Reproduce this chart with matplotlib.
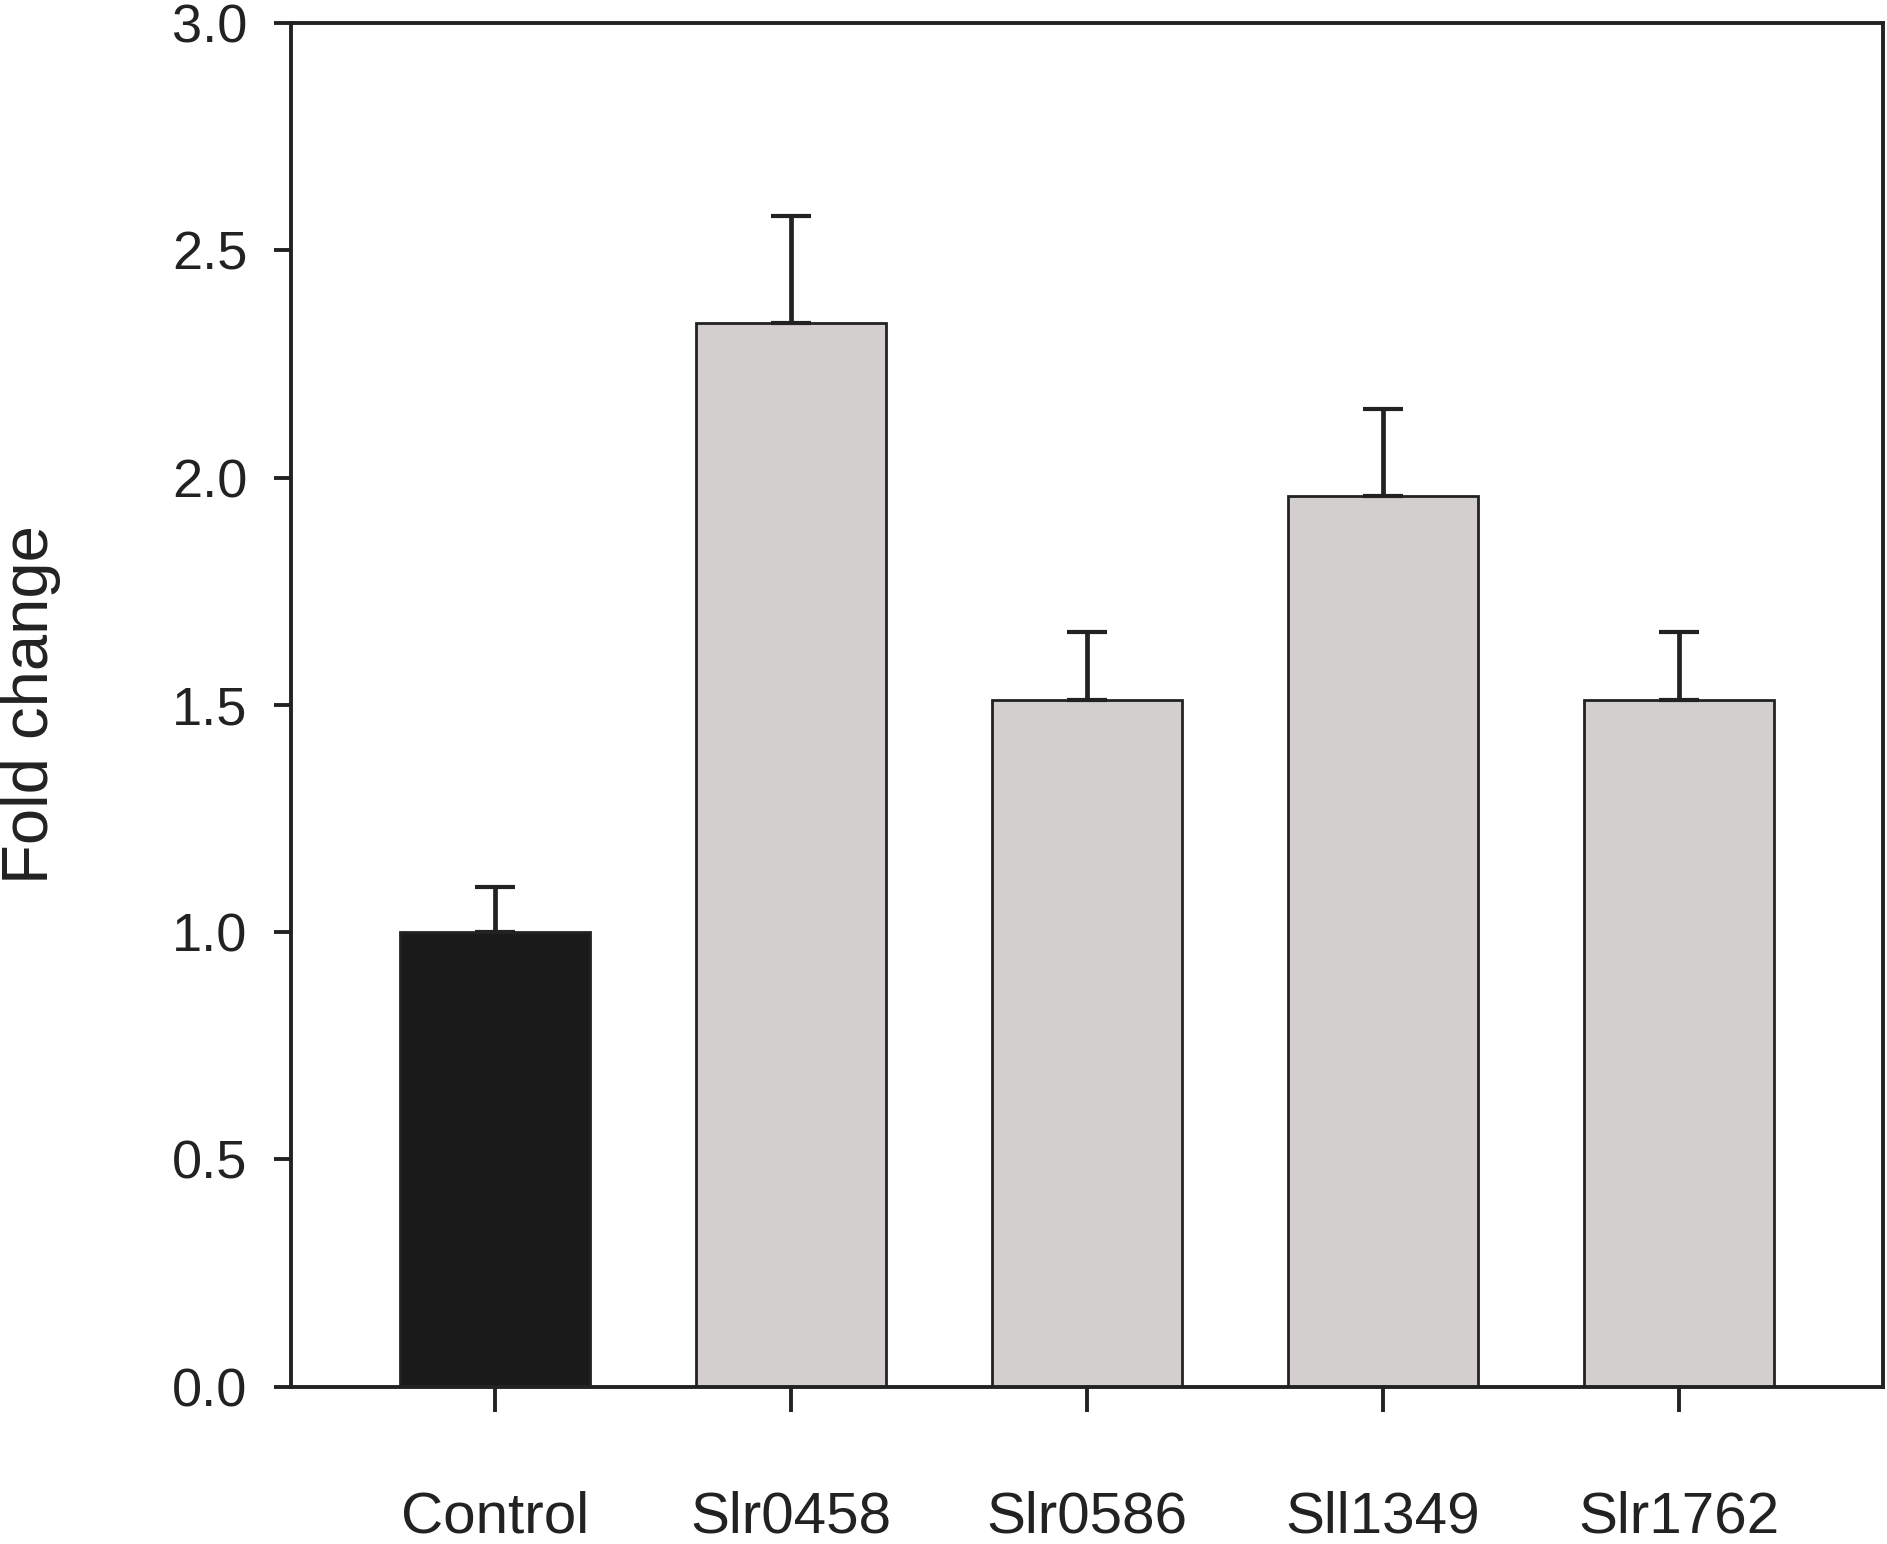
import matplotlib
matplotlib.use("Agg")
import matplotlib.pyplot as plt
import numpy as np

categories = ["Control", "Slr0458", "Slr0586", "Sll1349", "Slr1762"]
values = [1.00, 2.34, 1.51, 1.96, 1.51]
errors = [0.10, 0.235, 0.15, 0.19, 0.15]
colors = ["#1a1a1a", "#d4cfcf", "#d4cfcf", "#d4cfcf", "#d4cfcf"]
yticks = [0.0, 0.5, 1.0, 1.5, 2.0, 2.5, 3.0]

plt.rcParams["font.family"] = ["Liberation Sans", "DejaVu Sans"]
ink = "#222222"

fig = plt.figure(figsize=(18.87, 15.44), dpi=100)
ax = fig.add_axes([0.154, 0.102, 0.844, 0.883])

x = np.arange(len(categories))
ax.bar(x, values, width=0.64, color=colors, edgecolor=ink, linewidth=2.0, zorder=2)
ax.errorbar(x, values, yerr=[np.zeros(len(errors)), errors], fmt="none",
            ecolor=ink, elinewidth=3.4, capsize=14.5, capthick=3.0, zorder=3)

ax.set_xlim(-0.69, 4.69)
ax.set_ylim(0, 3.0)
ax.set_yticks(yticks)
ax.set_yticklabels([f"{t:.1f}" for t in yticks])
ax.set_xticks(x)
ax.set_xticklabels(categories, fontsize=42)

for s in ax.spines.values():
    s.set_linewidth(2.8)
    s.set_color(ink)

ax.tick_params(axis="y", direction="out", length=12, width=2.8, colors=ink,
               labelsize=39, pad=19, labelcolor=ink)
ax.tick_params(axis="x", direction="out", length=18, width=2.8, colors=ink,
               pad=57, labelcolor=ink)

ax.set_ylabel("Fold change", fontsize=47, color=ink, labelpad=80)

fig.savefig("out.png", dpi=100, facecolor="white")
